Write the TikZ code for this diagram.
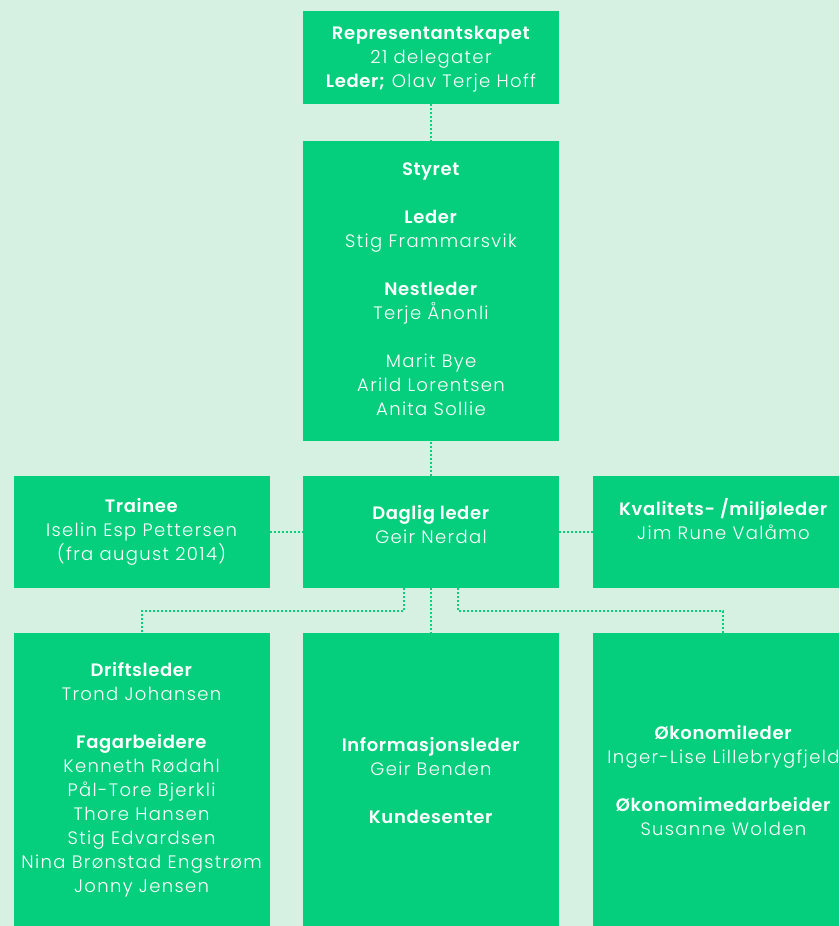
\documentclass[tikz,border=0pt]{standalone}
\usepackage{xcolor}
\usepackage{fontspec}
\setmainfont{Poppins}[UprightFont={* Light}, BoldFont={* SemiBold}, LetterSpace=7.5, BoldFeatures={LetterSpace=3.5}]
\usepackage{tikz}
\usetikzlibrary{positioning, calc}
\definecolor{bggreen}{HTML}{D6F0E1}
\definecolor{boxgreen}{HTML}{05CF7D}
\tikzstyle{box} = [rectangle, minimum width=256pt, inner sep=0pt, align=center, fill=boxgreen, text=white, font=\fontsize{18}{24}\selectfont]
\tikzstyle{link} = [line width=2pt, draw=boxgreen, dash pattern=on 2pt off 2pt]

\begin{document}
\begin{tikzpicture}
	\clip (0,0) rectangle (839pt,-926pt);
	\fill[bggreen] (0,0) rectangle (839pt,-926pt);
	
	% nodes
	\node (rep) at (431pt,-57.5pt) [box, minimum height=93pt, text depth=2pt] {
		\textbf{Representantskapet}\\
		21 delegater\\
		\textbf{Leder;} Olav Terje Hoff
	};
	
	\node (styret) [box, minimum height=300pt, text depth=5pt, below=37pt of rep] {
		\textbf{Styret}\\[24pt]
		\textbf{Leder}\\
		Stig Frammarsvik\\[24pt]
		\textbf{Nestleder}\\
		Terje Ånonli\\[24pt]
		Marit Bye\\
		Arild Lorentsen\\
		Anita Sollie
	};
	
	\node (daglig) [box, minimum height=112pt, text depth=14pt, below=34pt of styret] {
		\textbf{Daglig leder}\\
		Geir Nerdal
	};
	
	\node (trainee) [box, minimum height=112pt, left=33pt of daglig] {
		\textbf{Trainee}\\
		Iselin Esp Pettersen\\
		(fra august 2014)
	};
	
	\node (kvalitet) [box, minimum width=260pt, minimum height=112pt, text depth=26pt, right=34pt of daglig] {
		\textbf{Kvalitets- /miljøleder}\\
		Jim Rune Valåmo
	};
	
	\node (drift) [box, minimum height=294pt, below=45pt of trainee] {
		\textbf{Driftsleder}\\
		Trond Johansen\\[24pt]
		\textbf{Fagarbeidere}\\
		Kenneth Rødahl\\
		Pål-Tore Bjerkli\\
		Thore Hansen\\
		Stig Edvardsen\\
		Nina Brønstad Engstrøm\\
		Jonny Jensen
	};
	
	\node (info) [box, minimum height=294pt, below=45pt of daglig] {
		\textbf{Informasjonsleder}\\
		Geir Benden\\[24pt]
		\textbf{Kundesenter}
	};
	
	\node (okonomi) [box, minimum width=260pt, minimum height=294pt, below=45pt of kvalitet] {
		\textbf{Økonomileder}\\
		Inger-Lise Lillebrygfjeld\\[24pt]
		\textbf{Økonomimedarbeider}\\
		Susanne Wolden
	};
	
	% arrows
	\draw [link] (rep) -- (styret);
	\draw [link] (styret) -- (daglig);
	\draw [link] (trainee) -- (daglig);
	\draw [link] (daglig) -- (kvalitet);
	\draw [link] (daglig) -- (info);
	\draw [link] ([xshift=-27pt] daglig.south) -- ++(0,-23pt) -| (drift);
	\draw [link] ([xshift=27pt] daglig.south) -- ++(0,-23pt) -| (okonomi);
\end{tikzpicture}
\end{document}
